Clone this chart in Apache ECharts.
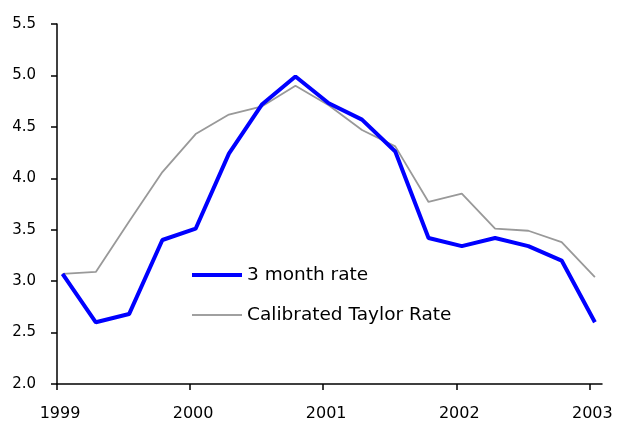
<!DOCTYPE html>
<html><head><meta charset="utf-8">
<script src="https://cdn.jsdelivr.net/npm/echarts@6/dist/echarts.min.js"></script>
<style>html,body{margin:0;padding:0;background:#fff}#c{width:620px;height:423px}</style>
</head><body><div id="c"></div>
<script>
// Quarterly observations (mid-month of Jan, Apr, Jul, Oct)
var dates = ['1999-01','1999-04','1999-07','1999-10','2000-01','2000-04','2000-07','2000-10',
             '2001-01','2001-04','2001-07','2001-10','2002-01','2002-04','2002-07','2002-10','2003-01'];
var threeMonthRate = [3.07,2.60,2.68,3.40,3.51,4.24,4.72,4.99,4.73,4.57,4.26,3.42,3.34,3.42,3.34,3.20,2.60];
var taylorRate     = [3.07,3.09,3.58,4.06,4.43,4.62,4.70,4.90,4.71,4.47,4.31,3.77,3.85,3.51,3.49,3.38,3.04];
var yearTicks = [1999,2000,2001,2002,2003];

function toX(d){var p=d.split('-');return +p[0]+(+p[1]-0.5)/12;}
function pairs(vals){return dates.map(function(d,i){return [toX(d),vals[i]];});}

var font = 'DejaVu Sans';
var blueIcon = 'path://M0,0h50v0.01h-50z M0,8h50v4h-50z M0,19.99h50v0.01h-50z';
var grayIcon = 'path://M0,0h50v0.01h-50z M0,9.1h50v1.8h-50z M0,19.99h50v0.01h-50z';
var chart = echarts.init(document.getElementById('c'));
chart.setOption({
  animation:false,
  backgroundColor:'#fff',
  grid:{left:57,right:18,top:24,bottom:39,containLabel:false},
  legend:{
    orient:'vertical', left:192, top:265, padding:0, itemWidth:50, itemHeight:20, itemGap:20,
    textStyle:{fontFamily:font,fontSize:18.5,lineHeight:20,color:'#000'},
    data:[{name:'3 month rate',icon:blueIcon},{name:'Calibrated Taylor Rate',icon:grayIcon}]
  },
  xAxis:{
    type:'value', min:1999, max:2003.095,
    splitLine:{show:false},
    axisLine:{lineStyle:{color:'#000',width:1.5}},
    axisTick:{customValues:yearTicks,length:6,lineStyle:{color:'#000',width:1.5}},
    axisLabel:{customValues:yearTicks,formatter:function(v){return String(Math.round(v));},
      fontFamily:font,fontSize:16,color:'#000',margin:22,padding:[0,0,0,6]}
  },
  yAxis:{
    type:'value', min:2, max:5.5, interval:0.5,
    splitLine:{show:false},
    axisLine:{show:true,lineStyle:{color:'#000',width:1.5}},
    axisTick:{show:true,length:6,lineStyle:{color:'#000',width:1.5}},
    axisLabel:{formatter:function(v){return v.toFixed(1);},fontFamily:font,fontSize:15,color:'#000',margin:21}
  },
  series:[
    {name:'3 month rate',type:'line',symbol:'none',data:pairs(threeMonthRate),
     lineStyle:{color:'#0000ff',width:4},itemStyle:{color:'#0000ff'},z:3},
    {name:'Calibrated Taylor Rate',type:'line',symbol:'none',data:pairs(taylorRate),
     lineStyle:{color:'#999999',width:1.8},itemStyle:{color:'#a0a0a0'},z:2}
  ]
});
</script></body></html>
